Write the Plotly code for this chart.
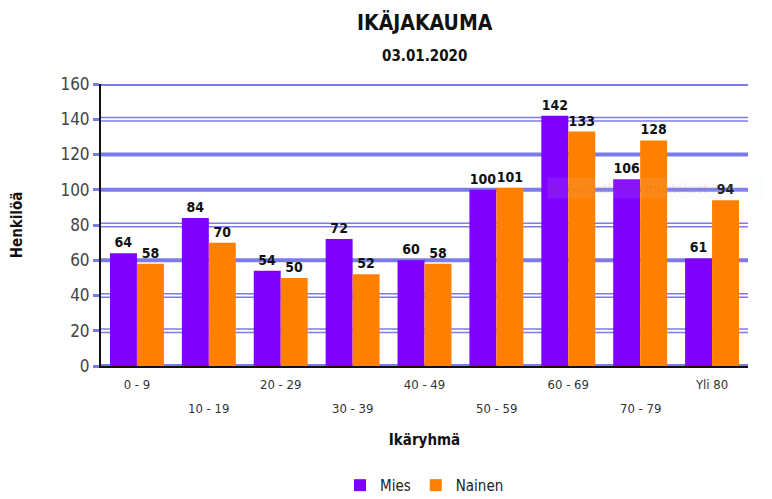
import plotly.graph_objects as go

categories = ["0 - 9", "10 - 19", "20 - 29", "30 - 39", "40 - 49", "50 - 59", "60 - 69", "70 - 79", "Yli 80"]
mies = [64, 84, 54, 72, 60, 100, 142, 106, 61]
nainen = [58, 70, 50, 52, 58, 101, 133, 128, 94]
y_ticks = [0, 20, 40, 60, 80, 100, 120, 140, 160]
double_lines = [20, 40, 80, 140]

NARROW = "DejaVu Sans Condensed, Liberation Sans Narrow, sans-serif"
grid_col = "#7b7bea"

# first row of x labels = even index, second row = odd index
row1_text = [c if i % 2 == 0 else "" for i, c in enumerate(categories)]
row2 = [c for i, c in enumerate(categories) if i % 2 == 1]

fig = go.Figure()
fig.add_bar(name="Mies", x=categories, y=mies, marker_color="#8000ff", marker_line_width=0,
            text=[f"<b>{v}</b>" for v in mies], textposition="outside", cliponaxis=False,
            textfont=dict(family=NARROW, size=14, color="#111"))
fig.add_bar(name="Nainen", x=categories, y=nainen, marker_color="#ff8000", marker_line_width=0,
            text=[f"<b>{v}</b>" for v in nainen], textposition="outside", cliponaxis=False,
            textfont=dict(family=NARROW, size=14, color="#111"))

# gridlines drawn as shapes (thick single or thin double lines)
for v in y_ticks[1:]:
    if v in double_lines:
        for d in (-0.95, 0.95):
            fig.add_shape(type="line", xref="paper", x0=0, x1=1, yref="y", y0=v + d, y1=v + d,
                          line=dict(color=grid_col, width=1.5), layer="below")
    else:
        fig.add_shape(type="line", xref="paper", x0=0, x1=1, yref="y", y0=v, y1=v,
                      line=dict(color=grid_col, width=4), layer="below")

# second row of category labels
for c in row2:
    fig.add_annotation(text=c, x=c, xref="x", y=0, yref="paper", yanchor="middle", yshift=-42,
                       showarrow=False, font=dict(family=NARROW, size=13, color="#333"))

# faint ghost tooltip
fig.add_annotation(text="●  Suodattimen muutokset", xref="paper", yref="paper", x=0.69, y=0.63,
                   xanchor="left", yanchor="middle", showarrow=False, bgcolor="rgba(230,240,255,0.45)",
                   width=225, height=18, align="left", opacity=0.18,
                   font=dict(family=NARROW, size=13, color="#c08080"))

fig.add_annotation(text="<b>IKÄJAKAUMA</b>", xref="paper", yref="paper", x=0.5, y=1.0, xanchor="center",
                   yanchor="middle", yshift=62, showarrow=False,
                   font=dict(family=NARROW, size=21, color="#111"))
fig.add_annotation(text="<b>03.01.2020</b>", xref="paper", yref="paper", x=0.5, y=1.0, xanchor="center",
                   yanchor="middle", yshift=28, showarrow=False,
                   font=dict(family=NARROW, size=15, color="#111"))

fig.update_layout(
    width=764, height=491,
    margin=dict(l=93, r=24, t=76, b=133, autoexpand=False),
    paper_bgcolor="white", plot_bgcolor="white",
    barmode="group", bargap=0.25, bargroupgap=0,
    showlegend=True,
    legend=dict(orientation="h", x=0.5, xanchor="center", y=-0.365, yanchor="top",
                font=dict(family=NARROW, size=15, color="#222"), itemwidth=30),
)
fig.update_xaxes(tickvals=categories, ticktext=row1_text, showgrid=False, automargin=False,
                 showline=True, linecolor="#111", linewidth=2, ticklabelstandoff=5,
                 tickfont=dict(family=NARROW, size=13, color="#333"),
                 title=dict(text="<b>Ikäryhmä</b>", font=dict(family=NARROW, size=15, color="#111"), standoff=44))
fig.update_yaxes(range=[0, 160], tickvals=y_ticks, showgrid=False,
                 automargin=False,
                 showline=True, linecolor="#111", linewidth=2, zeroline=True, zerolinecolor=grid_col, zerolinewidth=4,
                 ticks="outside", ticklen=6, tickcolor=grid_col, tickwidth=3,
                 tickfont=dict(family=NARROW, size=17, color="#444"),
                 title=dict(text="<b>Henkilöä</b>", font=dict(family=NARROW, size=15, color="#111"), standoff=38))

fig.write_html("out.html")
